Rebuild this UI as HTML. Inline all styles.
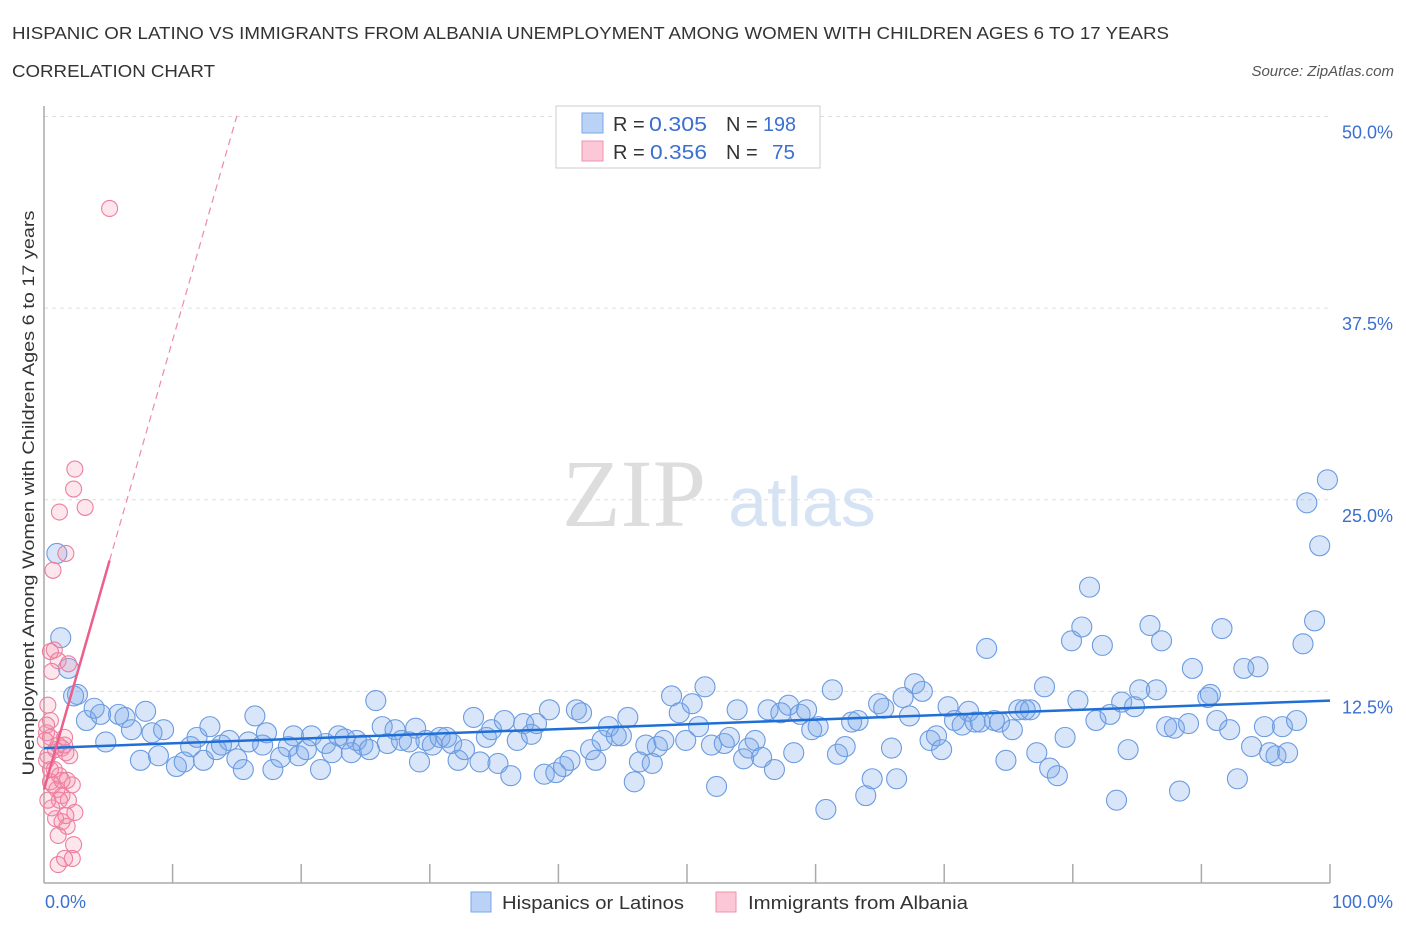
<!DOCTYPE html>
<html><head><meta charset="utf-8">
<style>
body{margin:0;background:#fff;font-family:"Liberation Sans",sans-serif;}
svg{display:block}
</style></head>
<body>
<svg id="chart" width="1406" height="930" xmlns="http://www.w3.org/2000/svg">
<text x="12" y="39" font-size="17.5" fill="#333" textLength="1157" lengthAdjust="spacingAndGlyphs">HISPANIC OR LATINO VS IMMIGRANTS FROM ALBANIA UNEMPLOYMENT AMONG WOMEN WITH CHILDREN AGES 6 TO 17 YEARS</text>
<text x="12" y="77" font-size="17.5" fill="#333" textLength="203" lengthAdjust="spacingAndGlyphs">CORRELATION CHART</text>
<text x="1394" y="76" font-size="15" fill="#555" font-style="italic" text-anchor="end">Source: ZipAtlas.com</text>
<text x="634" y="526" font-size="96" fill="#ddd" font-family="Liberation Serif" text-anchor="middle">ZIP</text>
<text x="802" y="526" font-size="70" fill="#d6e3f5" text-anchor="middle">atlas</text>
<g id="grid"></g>
<g id="axes"></g>
<g id="pts"></g>
<g id="trends"></g>
<text transform="translate(34,493) rotate(-90)" font-size="17" fill="#333" text-anchor="middle" textLength="565" lengthAdjust="spacingAndGlyphs">Unemployment Among Women with Children Ages 6 to 17 years</text>
<g>
<rect x="556" y="106" width="264" height="62" fill="#fff" stroke="#ccc"/>
<rect x="582" y="113" width="21" height="20" fill="#b9d2f5" stroke="#7aa6e6"/>
<rect x="582" y="141" width="21" height="20" fill="#fcc7d6" stroke="#ee93ad"/>
<text x="613" y="131" font-size="20" fill="#333">R =</text>
<text x="649" y="131" font-size="20" fill="#3b6fd1" textLength="58" lengthAdjust="spacingAndGlyphs">0.305</text>
<text x="726" y="131" font-size="20" fill="#333">N =</text>
<text x="763" y="131" font-size="20" fill="#3b6fd1" textLength="33" lengthAdjust="spacingAndGlyphs">198</text>
<text x="613" y="159" font-size="20" fill="#333">R =</text>
<text x="650" y="159" font-size="20" fill="#3b6fd1" textLength="57" lengthAdjust="spacingAndGlyphs">0.356</text>
<text x="726" y="159" font-size="20" fill="#333">N =</text>
<text x="772" y="159" font-size="20" fill="#3b6fd1" textLength="23" lengthAdjust="spacingAndGlyphs">75</text>
</g>
<g>
<rect x="471" y="892" width="20" height="20" fill="#b9d2f5" stroke="#7aa6e6"/>
<text x="502" y="909" font-size="18" fill="#333" textLength="182" lengthAdjust="spacingAndGlyphs">Hispanics or Latinos</text>
<rect x="716" y="892" width="20" height="20" fill="#fcc7d6" stroke="#ee93ad"/>
<text x="748" y="909" font-size="18" fill="#333" textLength="220" lengthAdjust="spacingAndGlyphs">Immigrants from Albania</text>
</g>
</svg>
<script>
const blueX=[1.0,1.3,1.9,2.6,2.3,3.3,3.9,4.8,4.4,5.8,6.3,6.8,7.9,7.5,8.4,9.3,8.9,10.3,10.9,11.4,11.9,12.4,12.9,13.4,13.8,14.4,15.0,15.5,15.9,16.4,17.0,17.3,17.8,18.4,19.0,19.4,19.8,20.4,20.8,21.5,21.9,22.4,22.9,23.4,23.9,24.3,24.8,25.3,25.8,26.3,26.7,27.3,27.8,28.4,28.9,29.2,29.7,30.2,30.8,31.3,31.7,32.2,32.7,33.4,33.9,34.4,34.8,35.3,35.8,36.3,36.8,37.3,37.9,38.3,38.9,39.3,39.8,40.4,40.9,41.4,41.8,42.5,42.9,43.4,43.9,44.5,44.9,45.4,45.9,46.3,46.8,47.3,47.7,48.2,48.8,49.4,49.9,50.4,50.9,51.4,51.9,52.3,52.9,53.3,53.9,54.4,54.8,55.3,55.8,56.3,56.8,57.3,57.9,58.3,58.8,59.3,59.7,60.2,60.8,61.3,61.7,62.3,62.8,63.3,63.9,64.4,64.9,65.3,65.9,66.3,66.8,67.3,67.7,68.3,68.9,69.4,69.8,70.3,70.8,71.4,71.9,72.4,72.8,73.3,73.9,74.3,74.8,75.3,75.8,76.3,76.7,77.2,77.8,78.2,78.8,79.4,79.9,80.4,80.7,81.3,81.8,82.3,82.9,83.4,83.8,84.3,84.8,85.2,86.0,86.5,86.9,87.3,87.9,88.3,89.0,89.3,90.5,90.7,91.2,91.6,92.2,92.8,93.3,93.9,94.4,94.9,95.3,95.8,96.3,96.7,97.4,97.9,98.2,98.8,99.2,99.8];
const blueY=[21.5,16.0,14.0,12.3,12.2,10.6,11.4,9.2,11.0,11.0,10.8,10.0,11.2,8.0,9.8,10.0,8.3,7.6,7.9,8.9,9.5,8.0,10.2,8.7,9.0,9.3,8.1,7.4,9.2,10.9,9.0,9.8,7.4,8.2,8.9,9.6,8.3,8.7,9.6,7.4,9.1,8.5,9.6,9.4,8.5,9.3,9.0,8.7,11.9,10.2,9.1,10.0,9.3,9.2,10.1,7.9,9.3,9.0,9.5,9.5,9.1,8.0,8.7,10.8,7.9,9.5,10.0,7.8,10.6,7.0,9.3,10.4,9.7,10.4,7.1,11.3,7.2,7.6,8.0,11.3,11.1,8.7,8.0,9.3,10.2,9.6,9.6,10.8,6.6,7.9,9.0,7.8,8.9,9.3,12.2,11.1,9.3,11.7,10.2,12.8,9.0,6.3,9.1,9.5,11.3,8.1,8.8,9.3,8.2,11.3,7.4,11.1,11.6,8.5,11.0,11.3,10.0,10.2,4.8,12.6,8.4,8.9,10.5,10.6,5.7,6.8,11.7,11.4,8.8,6.8,12.1,10.9,13.0,12.5,9.3,9.6,8.7,11.5,10.6,10.3,11.2,10.5,10.5,15.3,10.6,10.5,8.0,10.0,11.3,11.3,11.3,8.5,12.8,7.5,7.0,9.5,15.8,11.9,16.7,19.3,10.6,15.5,11.0,5.4,11.8,8.7,11.5,12.6,16.8,12.6,15.8,10.2,10.1,6.0,10.4,14.0,12.1,12.3,10.6,16.6,10.0,6.8,14.0,8.9,14.1,10.2,8.5,8.3,10.2,8.5,10.6,15.6,24.8,17.1,22.0,26.3];
const pinkX=[5.1,2.4,2.3,3.2,1.2,1.7,0.7,0.8,0.5,1.1,1.9,0.6,0.3,0.5,0.2,0.5,1.1,1.4,1.7,0.3,0.8,1.2,1.8,2.2,0.5,1.0,1.4,1.9,2.4,0.6,0.9,1.4,1.8,1.1,2.3,2.2,1.1,0.5,0.2,0.9,0.1,1.6,1.2,0.3,0.7,1.4,0.2,1.6,2.0,1.7,1.6];
const pinkY=[44.0,27.0,25.7,24.5,24.2,21.5,20.4,15.2,15.1,14.5,14.3,13.8,11.6,10.6,9.8,9.5,9.0,8.8,8.5,8.3,7.4,7.0,6.7,6.4,6.6,6.1,5.7,5.4,4.6,4.9,4.2,4.0,3.7,3.1,2.5,1.6,1.2,7.4,8.0,8.7,9.3,9.0,5.4,5.4,6.4,6.7,10.3,9.5,8.3,4.4,1.6];
const yTicks=[12.5,25,37.5,50];
const xTicks=[0,10,20,30,40,50,60,70,80,90,100];
const blueTrend=[8.8,11.9];
const pinkTrend=[6.1,2.93];
const NS='http://www.w3.org/2000/svg';
const X0=44,X1=1330,Y0=883,PPV=15.33;
const sx=v=>X0+(X1-X0)*v/100;
const sy=v=>Y0-v*PPV;
function mk(tag,attrs,parent){const e=document.createElementNS(NS,tag);for(const k in attrs)e.setAttribute(k,attrs[k]);document.getElementById(parent).appendChild(e);return e;}
yTicks.forEach(t=>{
 const l=mk('line',{x1:X0,x2:X1,y1:sy(t),y2:sy(t),stroke:'#ddd','stroke-dasharray':'4,4'},'grid');
 
 
 const tx=mk('text',{x:1393,y:sy(t)+22,'font-size':18,fill:'#3b6fd1','text-anchor':'end'},'grid');
 tx.textContent=t.toFixed(1)+'%';
 
 
});
const ax=mk('line',{x1:X0,x2:X0,y1:106,y2:883,stroke:'#aaa','stroke-width':1.5},'axes');


const bx=mk('line',{x1:X0,x2:X1,y1:883,y2:883,stroke:'#aaa','stroke-width':1.5},'axes');


xTicks.forEach(t=>{if(t===0)return;const l=mk('line',{x1:sx(t),x2:sx(t),y1:864,y2:883,stroke:'#aaa','stroke-width':1.5},'axes');
 
 });
const xl0=mk('text',{x:45,y:908,'font-size':18,fill:'#3b6fd1'},'axes');xl0.textContent='0.0%';


const xl1=mk('text',{x:1393,y:908,'font-size':18,fill:'#3b6fd1','text-anchor':'end'},'axes');xl1.textContent='100.0%';


blueX.forEach((v,i)=>{const c=mk('circle',{cx:sx(v),cy:sy(blueY[i]),r:10,fill:'rgba(120,165,235,0.28)',stroke:'#6b9be0','stroke-width':1.1},'pts');
 
 });
pinkX.forEach((v,i)=>{const c=mk('circle',{cx:sx(v),cy:sy(pinkY[i]),r:8,fill:'rgba(245,140,170,0.22)',stroke:'#ec7f9f','stroke-width':1.1},'pts');
 
 });
const bt=mk('line',{x1:sx(0),y1:sy(blueTrend[0]),x2:sx(100),y2:sy(blueTrend[1]),stroke:'#1f6fd6','stroke-width':2.5},'trends');


const pt=mk('line',{x1:sx(0),y1:sy(pinkTrend[0]),x2:sx(5.1),y2:sy(pinkTrend[0]+pinkTrend[1]*5.1),stroke:'#ec5f8a','stroke-width':2.5},'trends');


const pd=mk('line',{x1:sx(5.1),y1:sy(pinkTrend[0]+pinkTrend[1]*5.1),x2:sx(15),y2:sy(pinkTrend[0]+pinkTrend[1]*15),stroke:'#ee8aa8','stroke-width':1.2,'stroke-dasharray':'7,5'},'trends');


</script>
</body></html>
